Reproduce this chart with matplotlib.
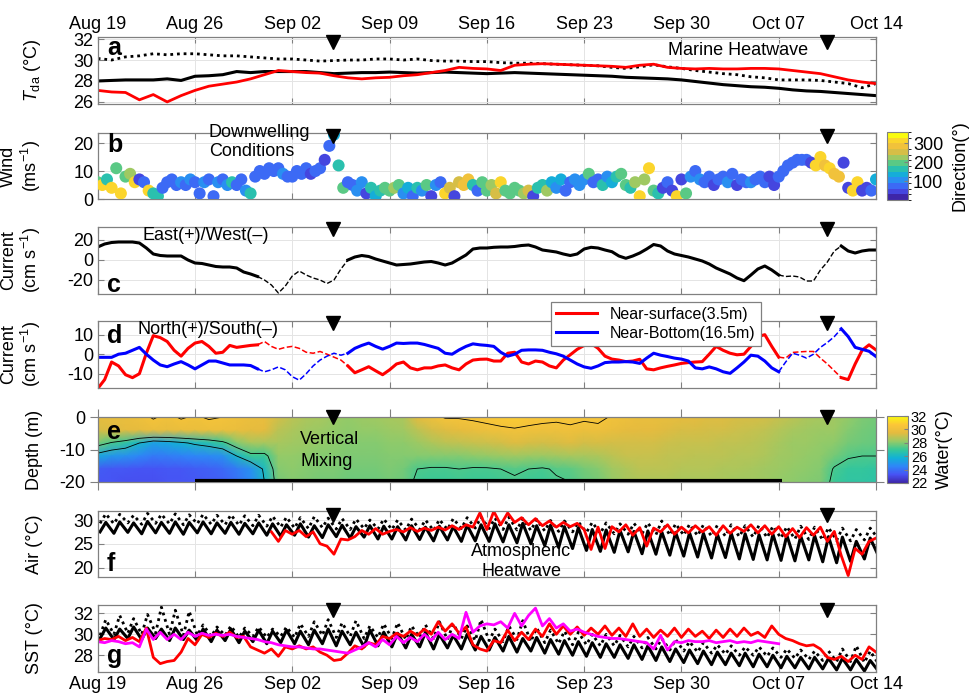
import matplotlib
matplotlib.use("Agg")
import matplotlib.dates as mdates
import matplotlib.pyplot as plt
import numpy as np
import pandas as pd
from matplotlib.cm import ScalarMappable
from matplotlib.colors import BoundaryNorm, LinearSegmentedColormap
from matplotlib.transforms import blended_transform_factory

plt.rcParams["font.family"] = ["Liberation Sans", "DejaVu Sans"]
plt.rcParams["mathtext.fontset"] = "custom"
plt.rcParams["mathtext.rm"] = "Liberation Sans"
plt.rcParams["mathtext.it"] = "Liberation Sans:italic"
plt.rcParams["axes.unicode_minus"] = False

START = "2019-08-19"
END = "2019-10-14"
EVENT_TIMES = ["2019-09-04 22:00", "2019-10-10 12:00"]

# --- a: depth-averaged temperature, daily ---
tda_dotted = [30.15, 30.0, 30.3, 30.4, 30.6, 30.5, 30.6, 30.6, 30.5, 30.4,
              30.4, 30.3, 30.2, 30.1, 30.1, 30.0, 29.9, 29.95, 30.0, 30.0,
              30.1, 30.1, 30.0, 30.1, 29.95, 29.9, 29.9, 29.85, 29.85, 29.75,
              29.7, 29.7, 29.65, 29.6, 29.55, 29.5, 29.45, 29.3, 29.2, 29.35,
              29.55, 29.35, 29.2, 29.0, 28.85, 28.7, 28.6, 28.4, 28.3, 28.1,
              28.1, 28.1, 28.05, 27.9, 27.75, 27.35, 27.75]
tda_solid = [28.0, 28.05, 28.1, 28.1, 28.1, 28.2, 28.05, 28.45, 28.5, 28.6,
             28.9, 28.8, 28.9, 28.9, 28.9, 28.9, 28.8, 28.7, 28.75, 28.8,
             28.8, 28.85, 28.8, 28.75, 28.8, 28.85, 28.8, 28.75, 28.7, 28.75,
             28.8, 28.75, 28.7, 28.65, 28.6, 28.55, 28.5, 28.45, 28.35, 28.3,
             28.25, 28.2, 28.1, 27.95, 27.8, 27.65, 27.55, 27.45, 27.4, 27.3,
             27.15, 27.05, 27.0, 26.9, 26.8, 26.7, 26.6]
tda_red = [27.1, 26.95, 26.9, 26.2, 26.7, 26.0, 26.6, 27.1, 27.5, 27.7,
           27.9, 28.2, 28.6, 29.0, 28.9, 28.8, 28.75, 28.5, 28.3, 28.2,
           28.3, 28.35, 28.5, 28.6, 28.8, 29.0, 29.3, 29.2, 29.15, 29.0,
           29.5, 29.6, 29.65, 29.6, 29.55, 29.5, 29.45, 29.4, 29.3, 29.5,
           29.6, 29.3, 29.2, 29.15, 29.2, 29.15, 29.15, 29.2, 29.2, 29.15,
           29.0, 28.85, 28.7, 28.4, 28.1, 27.9, 27.75]

# --- b: wind speed (m/s) and direction (deg), every 8 h ---
wind_speed = [6, 5, 7, 4, 11, 2, 8, 9, 6, 7, 6, 3, 2, 1, 4, 6, 7, 5, 6, 5, 7,
              6, 2, 6, 7, 1, 6, 7, 5, 6, 5, 7, 3, 2, 8, 10, 9, 11, 10, 11, 9, 8,
              8, 10, 9, 11, 9, 10, 11, 14, 19, 23, 12, 4, 6, 5, 3, 6, 2, 4,
              1, 3, 4, 3, 4, 5, 2, 4, 1, 4, 3, 5, 1, 5, 6, 2, 4, 1, 6, 5, 7,
              5, 3, 6, 3, 5, 2, 6, 3, 2, 4, 3, 2, 3, 1, 4, 5, 3, 6, 4, 7, 3,
              6, 7, 5, 7, 9, 6, 7, 5, 8, 6, 8, 9, 5, 4, 6, 1, 7, 11, 3, 2, 4,
              6, 3, 1, 7, 2, 8, 10, 7, 6, 8, 5, 7, 8, 6, 9, 5, 7, 6, 6, 7, 8,
              6, 8, 5, 8, 10, 12, 13, 14, 14, 14, 13, 12, 15, 12, 11, 9, 8, 13,
              4, 3, 6, 3, 4, 3, 7]
wind_dir = [200, 300, 170, 320, 200, 310, 200, 210, 300, 40, 60, 310, 150, 170, 60,
            80, 75, 70, 95, 75, 110, 75, 80, 95, 80, 75, 110, 75, 95, 160,
            70, 80, 110, 160, 75, 70, 80, 75, 70, 75, 95, 75, 60, 75, 70,
            75, 50, 75, 60, 50, 75, 120, 150, 190, 80, 70, 95, 100, 40, 150,
            120, 170, 180, 190, 230, 200, 100, 140, 60, 170, 90, 200, 40, 90, 60,
            300, 250, 50, 260, 290, 280, 150, 60, 200, 200, 230, 250, 300, 200, 180,
            200, 180, 230, 260, 40, 170, 150, 220, 140, 90, 120, 80, 80, 95, 110,
            95, 200, 80, 80, 150, 110, 140, 160, 200, 190, 150, 230, 300, 220, 310,
            200, 170, 40, 60, 40, 320, 30, 180, 100, 75, 95, 70, 80, 50, 75,
            75, 95, 70, 40, 75, 60, 110, 70, 80, 75, 50, 40, 70, 60, 75,
            70, 75, 70, 75, 50, 300, 320, 290, 300, 280, 290, 30, 40, 300, 310,
            30, 40, 60, 140]

# --- c: east current (cm/s), every 12 h ---
east_current = [13, 16, 17.5, 18, 18, 18, 17, 12, 6, 4.5,
                4, 4, 4, 0, -3, -3.5, -5, -6.5, -7, -7,
                -8, -12, -14, -16.5, -20, -25, -33, -26, -16, -11,
                -15, -18, -20, -23.5, -20, -9, 0, 3, 4.5, 3.5,
                1, -1, -3, -5, -4.5, -4, -3, -2, -1.5, -3,
                -5, -3, 1, 5, 11, 12, 12, 12.7, 13, 13,
                13.5, 14.5, 15, 13, 10, 9, 8, 6, 4.5, 6,
                11, 12.7, 12, 10, 8.3, 4, 1.7, 4, 7, 11,
                15.5, 14, 9, 6, 4.5, 3, 1, -1, -4, -8,
                -11, -14, -18, -20.7, -15, -9, -6, -10, -15, -16.5,
                -16, -17, -21, -21, -10, -2, 9, 14, 9, 7,
                9, 10, 10]

# --- d: north current (cm/s), every 12 h ---
north_surface = [-17.6, -13, -4, -6, -10.5, -12, -10, 0.5, 9.5, 8.5,
                 6.5, 2, -1, 3, 5.7, 6.5, 4, 0.5, 1, 4.5,
                 3.5, 4, 4.5, 4.8, 6.5, 4, 2.5, 3.5, 4, 3,
                 1, 0.5, 1.4, 0, -1.5, -3, -6, -9.5, -8, -6.4,
                 -8.5, -10.5, -8, -5, -4, -7, -8, -7, -7, -6,
                 -5.5, -7, -8, -5, -3, -2.6, -2.5, -3.5, -3.5, 0.5,
                 1, -4, -5, -3.5, -4, -6, -7, -3, -0.3, 2.5,
                 4.5, 5.5, 3, -1, -2.5, -3, -3.8, -3.5, -2.6, -7.5,
                 -8, -7, -6.2, -5.5, -4.7, -4.3, -4, -3.8, 0, 4,
                 2, 0.5, -0.3, 0, 4, 9, 10, 4, -1.5, -2,
                 0.9, 1.2, 1.4, 1.4, -2, -5, -8.5, -12, -13, -5,
                 2, 4.8, 2.2]
north_bottom = [-1.6, -1.6, -1.6, 0, 0.5, 2, 3.5, 0, -3, -5.5,
                -6.4, -5, -3.8, -5.5, -7.5, -5.5, -3.5, -3.5, -4.5, -5.5,
                -5.5, -5.5, -5.8, -7.5, -9, -8, -6.5, -8, -11.5, -13.3,
                -10, -6, -3, -1, 0.5, -0.5, 0.5, 3, 4.5, 5.7,
                4, 2.6, 4, 5.7, 5.5, 5.7, 5.7, 5, 4, 3,
                0.5, 0, 2.2, 4, 5.3, 4.8, 4.5, 4, 1, -1,
                0, 2, 2.2, 2.2, 2, 1, 0.2, -1, -3, -5,
                -6.5, -7.2, -6, -4.3, -4, -4, -3.8, -4, -4.7, -2,
                0.5, -0.5, -1.2, -2, -2.5, -3.5, -7, -7.5, -6.5, -7.5,
                -9, -9.8, -7, -4, -0.5, -1, -3.5, -7, -9, -4,
                0.5, -0.5, -2, 0, 3.5, 6, 9, 13, 9, 3.5,
                2.5, 1.5, -1.2]
# index ranges (12 h steps) drawn solid / dashed
current_segments = [(0, 23, "-"), (23, 36, "--"), (36, 98, "-"), (98, 107, "--"), (107, 112, "-")]

# --- e: water temperature (degC), daily columns, rows = depths ---
depths = [0, -4, -8, -12, -16, -20]
water_temp = [
    [29.6, 29.7, 29.8, 30.0, 30.4, 30.1, 30.4, 30.2, 30.4, 30.3, 30.1, 29.9, 29.8,
     29.2, 28.8, 28.6, 28.5, 28.3, 28.2, 28.3, 28.4, 28.5, 28.6, 29.5, 30.0, 30.4,
     30.4, 30.5, 30.6, 30.8, 30.9, 30.7, 30.6, 30.5, 30.6, 30.5, 30.6, 30.2, 30.0,
     29.8, 29.8, 29.7, 29.6, 29.5, 29.4, 29.4, 29.3, 29.3, 29.2, 29.0, 28.8, 28.6,
     28.5, 28.4, 28.2, 27.9, 27.8],
    [29.3, 29.4, 29.5, 29.6, 29.8, 29.7, 29.8, 29.8, 29.9, 29.9, 29.8, 29.6, 29.5,
     28.8, 28.6, 28.4, 28.3, 28.2, 28.1, 28.2, 28.2, 28.3, 28.4, 28.8, 29.2, 29.4,
     29.6, 29.8, 30.0, 30.1, 30.2, 30.1, 30.0, 30.0, 30.1, 29.9, 30.0, 29.8, 29.6,
     29.5, 29.5, 29.4, 29.3, 29.3, 29.2, 29.2, 29.1, 29.0, 28.9, 28.7, 28.5, 28.4,
     28.3, 28.3, 28.0, 27.8, 27.7],
    [27.8, 27.2, 26.8, 26.0, 25.3, 25.5, 25.8, 26.2, 26.5, 27.0, 28.0, 28.5, 28.5,
     28.5, 28.4, 28.3, 28.2, 28.1, 28.0, 28.0, 28.0, 28.1, 28.1, 28.3, 28.6, 28.8,
     28.9, 29.0, 29.1, 29.2, 29.4, 29.3, 29.2, 29.3, 29.4, 29.2, 29.3, 29.2, 29.2,
     29.2, 29.2, 29.1, 29.0, 29.0, 29.0, 28.9, 28.9, 28.8, 28.7, 28.5, 28.3, 28.3,
     28.2, 28.1, 27.8, 27.7, 27.6],
    [25.5, 25.0, 24.8, 24.5, 24.2, 24.3, 24.4, 24.5, 24.6, 24.8, 26.0, 27.0, 27.0,
     28.2, 28.2, 28.1, 28.0, 28.0, 27.9, 27.9, 27.9, 28.0, 28.0, 28.0, 28.0, 28.0,
     28.0, 28.1, 28.2, 28.3, 28.4, 28.3, 28.3, 28.4, 28.5, 28.5, 28.6, 28.8, 29.0,
     29.0, 29.0, 28.9, 28.9, 28.8, 28.8, 28.8, 28.7, 28.7, 28.6, 28.4, 28.3, 28.2,
     28.1, 27.8, 27.4, 27.3, 27.3],
    [23.5, 23.4, 23.4, 23.3, 23.3, 23.4, 23.4, 23.5, 23.6, 23.8, 24.2, 24.8, 26.2,
     28.0, 28.1, 28.0, 27.9, 27.9, 27.8, 27.8, 27.8, 27.9, 27.8, 27.3, 27.2, 27.2,
     27.3, 27.2, 27.2, 27.3, 27.4, 27.3, 27.2, 27.4, 27.5, 27.8, 28.0, 28.4, 28.6,
     28.8, 28.8, 28.8, 28.7, 28.7, 28.7, 28.6, 28.6, 28.5, 28.4, 28.3, 28.2, 28.1,
     28.0, 27.2, 26.9, 26.9, 26.8],
    [23.3, 23.3, 23.2, 23.2, 23.2, 23.3, 23.3, 23.4, 23.5, 23.6, 24.0, 24.6, 26.0,
     27.8, 28.0, 27.9, 27.8, 27.8, 27.7, 27.7, 27.7, 27.8, 27.7, 27.1, 27.0, 27.0,
     27.1, 27.0, 27.0, 27.1, 27.2, 27.0, 27.0, 27.2, 27.3, 27.6, 27.8, 28.2, 28.5,
     28.6, 28.6, 28.6, 28.5, 28.5, 28.5, 28.5, 28.4, 28.4, 28.3, 28.2, 28.1, 28.0,
     27.9, 27.0, 26.8, 26.8, 26.7],
]
bottom_bar = ["2019-08-26", "2019-10-07 05:00"]

# --- f: air temperature, daily min / max ---
air_solid_max = [29.5, 29.6, 29.4, 29.7, 29.5, 29.6, 29.5, 29.6, 29.4, 29.5, 29.3, 29.4, 29.2,
                 29.0, 29.2, 28.8, 29.0, 28.9, 28.6, 28.8, 28.7,
                 28.6, 28.8, 28.5, 28.7, 28.6, 28.9, 29.0,
                 29.2, 29.0, 29.3, 28.8, 28.9, 28.6, 28.4,
                 28.0, 27.9, 27.8, 27.6, 27.7, 27.5, 27.4,
                 27.3, 27.2, 27.0, 27.2, 27.1, 26.9, 27.0,
                 26.8, 26.6, 26.7, 26.5, 26.4, 25.5, 26.2, 26.0]
air_solid_min = [27.5, 27.2, 27.4, 27.1, 27.3, 27.2, 27.0, 27.3, 27.1, 27.2, 27.0, 27.1, 26.8,
                 26.6, 26.8, 26.4, 26.3, 26.5, 26.2, 26.4, 26.0,
                 26.0, 25.8, 25.9, 25.6, 25.8, 25.5, 25.6,
                 25.5, 25.4, 25.2, 25.0, 24.6, 24.2, 24.0,
                 23.6, 23.4, 23.2, 23.3, 22.9, 22.8, 22.6,
                 22.4, 22.2, 22.0, 22.1, 21.8, 21.7, 21.6,
                 21.5, 21.4, 21.6, 21.2, 21.0, 21.3, 21.8, 22.5]
air_dotted_max = [31.3, 31.2, 31.0, 31.4, 31.2, 31.3, 31.1, 31.2, 31.0, 31.1, 30.9, 31.0, 30.8,
                  30.6, 30.5, 30.7, 30.4, 30.3, 30.2, 30.0, 30.2,
                  30.0, 30.2, 30.0, 30.1, 30.3, 30.5, 30.6,
                  30.4, 30.6, 30.3, 30.1, 29.9, 29.8, 29.6,
                  29.5, 29.4, 29.2, 29.3, 29.4, 29.8, 29.2,
                  29.1, 29.0, 28.9, 29.0, 28.8, 28.9, 28.7,
                  28.6, 28.7, 28.5, 28.4, 28.3, 28.0, 28.3, 28.4]
air_dotted_min = [29.3, 29.2, 29.4, 29.1, 29.3, 29.2, 29.0, 29.2, 29.1, 29.0, 28.9, 28.8, 28.7,
                  28.5, 28.3, 28.2, 28.4, 28.1, 28.0, 28.2, 28.1,
                  28.0, 27.9, 28.0, 27.8, 28.0, 28.2, 28.3,
                  28.2, 28.0, 27.9, 27.8, 27.7, 27.6, 27.5,
                  27.4, 27.2, 27.1, 27.0, 27.1, 26.9, 26.8,
                  26.8, 26.7, 26.6, 26.6, 26.5, 26.4, 26.3,
                  26.2, 26.0, 25.9, 25.8, 25.7, 25.6, 25.8, 26.0]
air_red_start = "2019-08-31 12:00"
air_red = [27.5, 25.5, 27.8, 27.0, 27.8, 26.5, 27.5, 25.0, 24.5, 22.8,
           26.0, 25.8, 26.5, 27.8, 27.0, 28.2, 27.0, 27.6, 28.0, 27.5,
           28.4, 27.6, 28.3, 27.8, 28.5, 27.9, 28.8, 28.0, 29.0, 28.5,
           31.5, 28.0, 31.8, 29.0, 31.5, 29.5, 30.5, 29.0, 30.3, 28.8,
           29.8, 28.5, 29.5, 28.6, 29.3, 28.0, 23.8, 28.5, 24.0, 28.6,
           27.5, 29.0, 26.8, 28.4, 24.5, 28.3, 27.5, 29.0, 27.0, 28.5,
           27.3, 28.8, 27.5, 28.6, 26.8, 28.8, 27.2, 28.5, 27.6, 29.0,
           27.3, 28.8, 27.0, 28.6, 26.5, 28.2, 26.3, 28.4, 26.8, 28.5,
           25.5, 27.6, 22.5, 18.3, 24.0, 22.8, 25.5, 26.2]

# --- g: sea surface temperature ---
sst_solid_max = [30.6, 30.5, 30.7, 30.6, 30.5, 30.6, 30.4, 30.5, 30.4, 30.5, 30.3, 30.4, 30.3,
                 30.4, 30.3, 30.4, 30.5, 30.3, 30.2, 30.4, 30.2,
                 30.1, 30.0, 30.2, 30.0, 29.9, 30.0, 29.8,
                 29.7, 29.8, 29.6, 29.7, 29.5, 29.4, 29.3,
                 29.2, 29.1, 29.0, 29.0, 28.9, 28.8, 28.6,
                 28.5, 28.4, 28.3, 28.2, 28.2, 28.1, 28.0,
                 27.9, 27.8, 27.8, 27.7, 27.7, 27.6, 27.5, 27.4]
sst_solid_min = [29.6, 29.5, 29.6, 29.5, 29.6, 29.4, 29.5, 29.4, 29.3, 29.4, 29.2, 29.3, 29.1,
                 29.2, 29.1, 29.0, 29.1, 28.9, 29.0, 28.8, 28.9,
                 28.8, 28.7, 28.8, 28.6, 28.7, 28.6, 28.5,
                 28.5, 28.4, 28.3, 28.4, 28.2, 28.1, 28.0,
                 27.9, 27.8, 27.8, 27.7, 27.6, 27.5, 27.4,
                 27.3, 27.2, 27.1, 27.1, 27.0, 26.9, 26.9,
                 26.8, 26.8, 26.7, 26.7, 26.6, 26.6, 26.5, 26.5]
sst_dotted_max = [31.4, 31.8, 31.5, 31.9, 32.6, 32.3, 32.2, 30.9, 30.7, 30.8, 30.6, 30.7, 30.5,
                  30.7, 31.0, 31.2, 31.4, 31.1, 31.3, 30.8, 31.0,
                  31.1, 30.8, 30.9, 31.2, 31.0, 30.8, 31.4,
                  30.5, 30.8, 31.3, 30.6, 30.4, 30.3, 30.2,
                  30.0, 30.0, 29.9, 29.8, 29.7, 29.6, 29.5,
                  29.3, 29.2, 29.0, 28.9, 28.8, 28.8, 28.7,
                  28.6, 28.5, 28.4, 28.4, 28.6, 28.9, 28.4, 28.3]
sst_dotted_min = [29.9, 30.0, 30.1, 30.0, 30.1, 30.0, 29.9, 29.9, 29.8, 29.9, 29.7, 29.8, 29.7,
                  29.8, 29.7, 29.8, 29.9, 29.7, 29.8, 29.6, 29.7,
                  29.6, 29.5, 29.7, 29.6, 29.5, 29.6, 29.4,
                  29.4, 29.3, 29.5, 29.3, 29.2, 29.1, 29.0,
                  29.0, 28.9, 28.9, 28.8, 28.7, 28.6, 28.5,
                  28.4, 28.3, 28.2, 28.1, 28.0, 28.0, 27.9,
                  27.8, 27.7, 27.6, 27.5, 27.4, 27.4, 27.3, 27.2]
sst_red = [29.4, 29.6, 29.5, 29.8, 29.4, 29.7, 29.3, 30.6, 27.8, 27.2,
           27.4, 27.5, 28.3, 29.6, 29.0, 30.0, 29.7, 30.1, 29.8, 30.2,
           29.7, 29.8, 28.8, 28.5, 28.2, 28.6, 27.9, 28.8, 28.6, 28.9,
           28.6, 28.8, 28.3, 28.0, 27.5, 27.6, 28.2, 28.9, 28.6, 29.2,
           29.0, 29.8, 29.6, 30.1, 29.8, 30.3, 29.9, 30.5, 30.0, 31.2,
           30.3, 31.0, 30.1, 30.7, 29.0, 28.6, 28.4, 29.4, 29.2, 30.4,
           29.4, 30.2, 29.5, 30.5, 29.8, 31.0, 30.0, 30.8, 30.0, 30.7,
           29.9, 30.6, 30.0, 30.8, 29.9, 30.6, 29.8, 31.0, 29.8, 30.5,
           29.7, 30.4, 29.8, 30.6, 29.7, 30.5, 29.8, 30.3, 29.6, 30.4,
           29.7, 30.5, 29.8, 30.6, 29.9, 30.2, 29.7, 30.8, 30.0, 29.6,
           29.4, 29.1, 28.9, 29.0, 28.6, 27.8, 27.6, 27.9, 27.4, 28.0,
           27.6, 28.8, 28.3]
sst_magenta = [29.3, 29.2, 29.4, 29.3, 29.1, 29.2, 28.8, 30.5, 29.5, 30.2,
               29.5, 30.0, 29.5, 30.2, 29.8, 30.1, 29.9, 30.0, 29.9, 30.0,
               29.8, 29.7, 29.6, 29.5, 29.3, 29.2, 29.0, 28.9, 28.8, 28.8,
               28.7, 28.6, 28.6, 28.5, 28.4, 28.3, 28.2, 28.5, 28.8, 29.2,
               28.8, 29.5, 29.0, 29.8, 29.2, 29.7, 29.3, 30.0, 29.4, 30.2,
               29.5, 30.0, 29.6, 32.1, 30.2, 30.8, 31.0, 30.9, 31.2, 30.6,
               32.0, 30.8, 31.8, 32.5, 30.8, 31.5, 30.6, 31.0, 30.3, 30.5,
               30.2, 30.0, 29.8, 29.7, 29.6, 29.6, 29.5, 29.4, 29.3, 29.2,
               28.6, 29.9, 28.5, 29.3, 29.2, 29.4, 29.3, 29.3, 29.4, 29.2,
               29.3, 29.4, 29.2, 29.3, 29.2, 29.4, 29.3, 29.2, 29.1]

PARULA = LinearSegmentedColormap.from_list(
    "parula", ["#3E26A8", "#4752F4", "#2E87F7", "#12B1D6", "#37C897",
               "#98CA66", "#E4BB3F", "#FCC737", "#F9FB0E"])

W, H = 971, 697
X0, X1 = 97.7, 876
ROWS = {"a": (37, 104), "b": (133, 199), "c": (227, 294), "d": (321, 388),
        "e": (417, 482), "f": (511, 577), "g": (605, 672)}
EDGE = "#808080"


def box(x0, y0, x1, y1):
    return [x0 / W, 1 - y1 / H, (x1 - x0) / W, (y1 - y0) / H]


def every(start, n, step):
    return pd.date_range(start, periods=n, freq=step)


def diurnal(lo, hi):
    days = every(START, len(lo), "D")
    t, v = [], []
    for d, a, b in zip(days, lo, hi):
        t += [d + pd.Timedelta(hours=4), d + pd.Timedelta(hours=14)]
        v += [a, b]
    return t, v


def style(ax, ylim, yticks, outward=False, grid=True):
    ax.set_xlim(pd.Timestamp(START), pd.Timestamp(END))
    ax.set_ylim(*ylim)
    ax.set_xticks(pd.date_range(START, END, freq="7D"))
    ax.xaxis.set_major_formatter(mdates.DateFormatter("%b %d"))
    ax.set_yticks(yticks)
    ax.tick_params(direction="out" if outward else "in", top=True, right=True,
                   length=6 if outward else 4, width=0.8, color=EDGE,
                   labelsize=13, labelbottom=False, pad=3)
    for s in ax.spines.values():
        s.set_color(EDGE)
        s.set_linewidth(0.9)
    if grid:
        ax.grid(True, color="#e4e4e4", lw=0.7)
        ax.set_axisbelow(True)


def mark_events(ax, y=0.93):
    tr = blended_transform_factory(ax.transData, ax.transAxes)
    for t in EVENT_TIMES:
        x = mdates.date2num(pd.Timestamp(t).to_pydatetime())
        ax.plot([x], [y], marker="v", ms=10, color="k", transform=tr,
                clip_on=False, zorder=8)


def letter(ax, s, y):
    ax.text(0.012, y, s, transform=ax.transAxes, fontsize=18, fontweight="bold",
            ha="left", va="center", zorder=9)


def segments(ax, t, y, color, lw_solid, lw_dash):
    for i0, i1, ls in current_segments:
        ax.plot(t[i0:i1 + 1], y[i0:i1 + 1], color=color, ls=ls,
                lw=lw_solid if ls == "-" else lw_dash)


fig = plt.figure(figsize=(W / 100, H / 100), dpi=100)
axes = {k: fig.add_axes(box(X0, r[0], X1, r[1])) for k, r in ROWS.items()}
DOT = (0, (1, 1.4))

# a
ax = axes["a"]
t = every(START, len(tda_solid), "D")
ax.plot(t, tda_dotted, color="k", ls=DOT, lw=2.0)
ax.plot(t, tda_solid, color="k", lw=2.2)
ax.plot(t, tda_red, color="#ff0000", lw=2.0)
style(ax, (25.8, 32.2), [26, 28, 30, 32])
ax.tick_params(labeltop=True)
ax.set_ylabel(r"$T_{\mathrm{da}}$ (°C)", fontsize=13, labelpad=4)
ax.text(0.823, 0.80, "Marine Heatwave", transform=ax.transAxes, fontsize=13,
        ha="center", va="center")
letter(ax, "a", 0.84)
mark_events(ax, 0.92)

# b
ax = axes["b"]
dir_norm = BoundaryNorm(np.arange(0, 361, 30), 12)
dir_cmap = PARULA.resampled(12)
t = every(START, len(wind_speed), "8h")
ax.scatter(t, wind_speed, c=wind_dir, cmap=dir_cmap, norm=dir_norm, s=75,
           edgecolors="none", zorder=3)
style(ax, (0, 23.6), [0, 10, 20])
ax.set_ylabel("Wind\n(ms$^{-1}$)", fontsize=13, labelpad=2, linespacing=1.1)
ax.text(0.143, 0.86, "Downwelling\nConditions", transform=ax.transAxes,
        fontsize=13, ha="left", va="center", linespacing=1.15, zorder=9)
letter(ax, "b", 0.82)
mark_events(ax, 0.955)
cax = fig.add_axes(box(887, 132, 908, 200))
cb = fig.colorbar(ScalarMappable(dir_norm, dir_cmap), cax=cax, ticks=[100, 200, 300])
cb.ax.tick_params(labelsize=13, color=EDGE, direction="in", length=3)
cb.outline.set_edgecolor(EDGE)
cb.set_label("Direction(°)", fontsize=13, labelpad=6)

# c
ax = axes["c"]
t = every(START, len(east_current), "12h")
segments(ax, t, east_current, "k", 2.2, 1.0)
style(ax, (-34, 33), [-20, 0, 20])
ax.set_ylabel("Current\n(cm s$^{-1}$)", fontsize=13, labelpad=2, linespacing=1.1)
ax.text(0.057, 0.866, "East(+)/West(–)", transform=ax.transAxes, fontsize=13,
        ha="left", va="center")
letter(ax, "c", 0.14)
mark_events(ax, 0.965)

# d
ax = axes["d"]
t = every(START, len(north_surface), "12h")
segments(ax, t, north_surface, "#ff0000", 2.2, 1.1)
segments(ax, t, north_bottom, "#0000ff", 2.2, 1.1)
style(ax, (-17.3, 17), [-10, 0, 10])
ax.set_ylabel("Current\n(cm s$^{-1}$)", fontsize=13, labelpad=2, linespacing=1.1)
ax.text(0.0507, 0.866, "North(+)/South(–)", transform=ax.transAxes, fontsize=13,
        ha="left", va="center")
letter(ax, "d", 0.78)
mark_events(ax, 0.965)
handles = [plt.Line2D([], [], color="#ff0000", lw=2.2),
           plt.Line2D([], [], color="#0000ff", lw=2.2)]
leg = ax.legend(handles, ["Near-surface(3.5m)", "Near-Bottom(16.5m)"],
                loc="upper left", bbox_to_anchor=(543 / W, 1 - 294 / H),
                bbox_transform=fig.transFigure, fontsize=11.5, frameon=True,
                fancybox=False, edgecolor=EDGE, framealpha=1, handlelength=2.6,
                borderpad=0.3, labelspacing=0.25, handletextpad=0.8)
leg.get_frame().set_linewidth(0.9)
leg.set_zorder(20)

# e
ax = axes["e"]
tn = mdates.date2num(every(START, len(water_temp[0]), "D").to_pydatetime())
field = np.array(water_temp)
mesh = ax.pcolormesh(tn, depths, field, shading="gouraud", cmap=PARULA,
                     vmin=22, vmax=32)
ax.contour(tn, depths, field, levels=[26, 27.3, 30.3], colors="k", linewidths=0.6)
bar = mdates.date2num([pd.Timestamp(b).to_pydatetime() for b in bottom_bar])
ax.plot(bar, [-19.8, -19.8], color="k", lw=3, solid_capstyle="butt", zorder=5)
style(ax, (-20, 0), [-20, -10, 0], outward=True, grid=False)
ax.set_ylabel("Depth (m)", fontsize=13, labelpad=4)
ax.text(0.26, 0.49, "Vertical\nMixing", transform=ax.transAxes, fontsize=13,
        ha="left", va="center", linespacing=1.4)
letter(ax, "e", 0.77)
mark_events(ax, 1.0)
cax = fig.add_axes(box(887, 416, 908, 483))
cb = fig.colorbar(mesh, cax=cax, ticks=[22, 24, 26, 28, 30, 32])
cb.ax.tick_params(labelsize=10.5, color=EDGE, direction="in", length=3, pad=2)
cb.outline.set_edgecolor(EDGE)
cb.set_label("Water(°C)", fontsize=13, labelpad=6)

# f
ax = axes["f"]
ax.plot(*diurnal(air_dotted_min, air_dotted_max), color="k", ls=DOT, lw=2.0)
ax.plot(*diurnal(air_solid_min, air_solid_max), color="k", lw=2.2)
ax.plot(every(air_red_start, len(air_red), "12h"), air_red, color="#ff0000", lw=2.0)
style(ax, (18, 31.9), [20, 25, 30])
ax.set_ylabel("Air (°C)", fontsize=13, labelpad=4)
ax.text(0.544, 0.235, "Atmospheric\nHeatwave", transform=ax.transAxes, fontsize=13,
        ha="center", va="center", linespacing=1.25, zorder=9)
letter(ax, "f", 0.2)
mark_events(ax, 0.945)

# g
ax = axes["g"]
ax.plot(*diurnal(sst_dotted_min, sst_dotted_max), color="k", ls=DOT, lw=2.0)
ax.plot(*diurnal(sst_solid_min, sst_solid_max), color="k", lw=2.2)
ax.plot(every(START, len(sst_red), "12h"), sst_red, color="#ff0000", lw=2.0)
ax.plot(every(START, len(sst_magenta), "12h"), sst_magenta, color="#ff00ff", lw=2.0)
style(ax, (26.4, 32.8), [28, 30, 32])
ax.tick_params(labelbottom=True)
ax.set_ylabel("SST (°C)", fontsize=13, labelpad=4)
letter(ax, "g", 0.24)
mark_events(ax, 0.93)

for k in "abcdefg":
    axes[k].yaxis.set_label_coords(-0.07, 0.5)

fig.savefig("out.png", dpi=100)
